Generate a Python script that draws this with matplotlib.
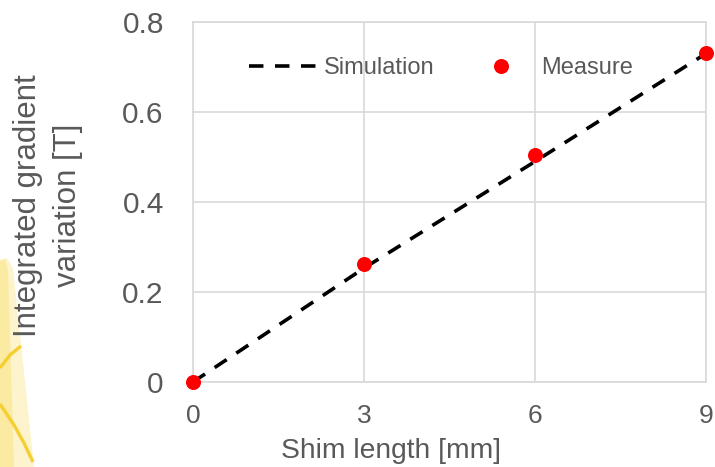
import numpy as np
import matplotlib.pyplot as plt
from matplotlib.patches import Polygon
from matplotlib.lines import Line2D

plt.rcParams['font.family'] = ['Liberation Sans', 'DejaVu Sans']

# data
sim_x = [0, 3, 6, 9]
sim_y = [0.0, 0.253, 0.49, 0.73]
meas_x = [0, 3, 6, 9]
meas_y = [0.0, 0.262, 0.505, 0.732]
xticks = [0, 3, 6, 9]
yticks = [0, 0.2, 0.4, 0.6, 0.8]
ytick_labels = ["0", "0.2", "0.4", "0.6", "0.8"]

W, H = 715, 467
fig = plt.figure(figsize=(W / 100, H / 100), dpi=100)

# faint slide-background fragment on the far left (pixel coords -> figure)
def fx(px): return px / W
def fy(py): return 1 - py / H
bar = Polygon([(fx(-5), fy(262)), (fx(7), fy(258)), (fx(13), fy(268)),
               (fx(34), fy(467)), (fx(-5), fy(467))], closed=True,
              transform=fig.transFigure, facecolor="#fdf3cc", edgecolor="none", zorder=0)
fig.add_artist(bar)
bar2 = Polygon([(fx(-5), fy(262)), (fx(5), fy(259)), (fx(8), fy(270)),
                (fx(14), fy(467)), (fx(-5), fy(467))], closed=True,
               transform=fig.transFigure, facecolor="#f9e27a", edgecolor="none",
               alpha=0.5, zorder=0)
fig.add_artist(bar2)
for px, py in [([0, 10, 21], [368, 355, 346]), ([0, 14, 24, 33], [404, 425, 443, 462])]:
    fig.add_artist(Line2D([fx(v) for v in px], [fy(v) for v in py],
                          transform=fig.transFigure, color="#f5cf30", lw=2.4,
                          solid_capstyle="butt", zorder=0))

ax = fig.add_axes([193 / W, 1 - 382 / H, (706 - 193) / W, (382 - 22) / H])
ax.set_facecolor("none")

ax.plot(sim_x, sim_y, color="black", lw=2.6, ls=(0, (4, 3.2)),
        label="Simulation", zorder=3)
ax.plot(meas_x, meas_y, ls="none", marker="o", ms=10.8, color="#ff0000",
        markeredgewidth=0, label="Measure", zorder=4, clip_on=False)

ax.set_xlim(0, 9)
ax.set_ylim(0, 0.8)
ax.set_xticks(xticks)
ax.set_yticks(yticks)
ax.set_yticklabels(ytick_labels)
ax.grid(True, color="#d9d9d9", lw=1.2)
ax.set_axisbelow(True)
for s in ax.spines.values():
    s.set_color("#d9d9d9")
    s.set_linewidth(1.2)
ax.tick_params(length=0, colors="#595959")
ax.tick_params(axis="x", labelsize=19, pad=16)
ax.tick_params(axis="y", labelsize=21.5, pad=21)

ax.set_xlabel("Shim length [mm]", fontsize=20.3, color="#595959")
ax.xaxis.set_label_coords(0.386, -0.155)
ax.set_ylabel("Integrated gradient\nvariation [T]", fontsize=22.5,
              color="#595959", linespacing=1.42)
ax.yaxis.set_label_coords(-0.215, 0.49)

ax.legend(loc="center", bbox_to_anchor=(0.483, 0.872), ncol=2, frameon=False,
          fontsize=17, labelcolor="#595959", handlelength=3.0,
          handletextpad=0.2, columnspacing=1.3)

fig.savefig("out.png", dpi=100)
